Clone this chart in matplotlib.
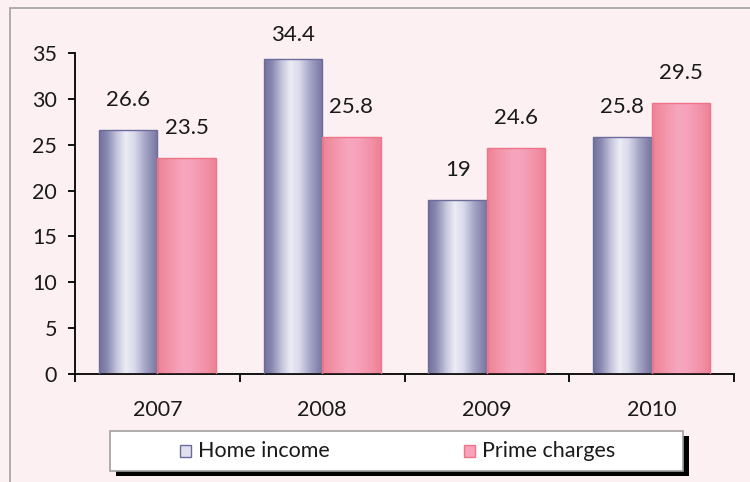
import numpy as np
import matplotlib
matplotlib.use('Agg')
from matplotlib import pyplot as plt
from matplotlib.colors import LinearSegmentedColormap
from matplotlib.patches import Rectangle

years = ['2007', '2008', '2009', '2010']
home_income = [26.6, 34.4, 19, 25.8]
prime_charges = [23.5, 25.8, 24.6, 29.5]
series_names = ['Home income', 'Prime charges']

plt.rcParams['font.family'] = ['Lato', 'DejaVu Sans']

BG = '#fdf0f3'
blue_cmap = LinearSegmentedColormap.from_list('blue_bar', [
    (0.0, '#72729c'), (0.12, '#8686ae'), (0.3, '#c4c4dc'), (0.45, '#ececf6'),
    (0.6, '#dadaea'), (0.8, '#a2a2c4'), (1.0, '#7676a0')])
pink_cmap = LinearSegmentedColormap.from_list('pink_bar', [
    (0.0, '#ee8294'), (0.2, '#f294a8'), (0.45, '#f7a6c0'), (0.6, '#f6a2bc'),
    (0.85, '#f290a6'), (1.0, '#ec8294')])

fig = plt.figure(figsize=(7.5, 4.82), dpi=100, facecolor=BG)
# outer chart frame
fig.patches.append(Rectangle((10 / 750, -0.05), 1.1, 1 - 8 / 482 + 0.05,
                             transform=fig.transFigure, fill=False,
                             edgecolor='#a0a0a0', linewidth=1.2))
ax = fig.add_axes([75 / 750, 108 / 482, 659 / 750, 321 / 482])
ax.set_facecolor(BG)

x = np.arange(len(years))
w = 0.355
bars1 = ax.bar(x - w / 2, home_income, w, facecolor='none', edgecolor='#6c6c9c', linewidth=1, zorder=3)
bars2 = ax.bar(x + w / 2, prime_charges, w, facecolor='none', edgecolor='#ee7488', linewidth=1, zorder=3)

grad = np.linspace(0, 1, 64).reshape(1, -1)
for bars, cmap in [(bars1, blue_cmap), (bars2, pink_cmap)]:
    for b in bars:
        x0, y0 = b.get_x(), b.get_y()
        im = ax.imshow(grad, cmap=cmap, aspect='auto', zorder=2,
                       extent=(x0, x0 + b.get_width(), y0, y0 + b.get_height()))
        im.set_clip_path(b)

ax.set_xlim(-0.5, 3.5)
ax.set_ylim(0, 35)

for vals, off in [(home_income, -w / 2), (prime_charges, w / 2)]:
    for xi, v in zip(x, vals):
        ax.text(xi + off, min(v + 3.27, 37.0), f'{v:g}', ha='center', va='center',
                fontsize=16, color='#1a1a1a', clip_on=False)

ax.set_yticks(range(0, 36, 5))
ax.set_xticks(np.arange(-0.5, 4, 1))
ax.set_xticklabels([])
ax.set_xticks(x, minor=True)
ax.set_xticklabels(years, minor=True)
ax.tick_params(axis='x', which='major', direction='out', length=6, width=1.3)
ax.tick_params(axis='x', which='minor', length=0, pad=19, labelsize=15.5, labelcolor='#1a1a1a')
ax.tick_params(axis='y', direction='out', length=5, width=1.3, pad=8, labelsize=15.5, labelcolor='#1a1a1a')
for s in ['top', 'right']:
    ax.spines[s].set_visible(False)
for s in ['left', 'bottom']:
    ax.spines[s].set_linewidth(1.3)

# legend box with black shadow
lx0, lx1, ly0, ly1 = 110 / 750, 683 / 750, 1 - 471 / 482, 1 - 431 / 482
fig.patches.append(Rectangle((lx0 + 6 / 750, ly0 - 5 / 482), lx1 - lx0, ly1 - ly0,
                             transform=fig.transFigure, facecolor='black', edgecolor='none'))
fig.patches.append(Rectangle((lx0, ly0), lx1 - lx0, ly1 - ly0, transform=fig.transFigure,
                             facecolor='white', edgecolor='#a0a0a0', linewidth=1.2))
ymid = (ly0 + ly1) / 2
for name, cmap, edge, mx in [(series_names[0], blue_cmap, '#6c6c9c', 180 / 750),
                             (series_names[1], pink_cmap, '#ee7488', 464 / 750)]:
    fig.patches.append(Rectangle((mx, ymid - 6 / 482), 11 / 750, 12 / 482, transform=fig.transFigure,
                                 facecolor=cmap(0.4), edgecolor=edge, linewidth=1))
    fig.text(mx + 18 / 750, ymid, name, ha='left', va='center', fontsize=15.5, color='#1a1a1a')

fig.savefig('out.png', dpi=100, facecolor=BG)
